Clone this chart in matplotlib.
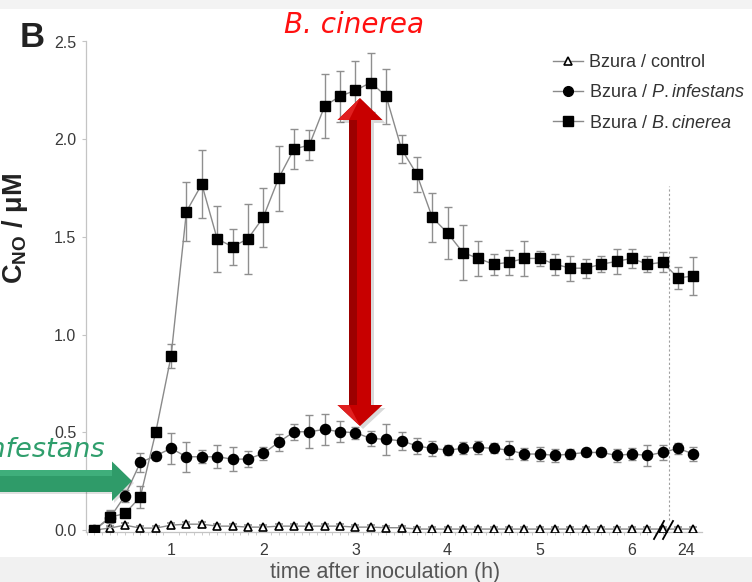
import numpy as np
import matplotlib
matplotlib.use('Agg')
import matplotlib.pyplot as plt
from matplotlib.lines import Line2D
from matplotlib.patches import Polygon, Rectangle

plt.rcParams['font.family'] = ['Liberation Sans', 'DejaVu Sans']
plt.rcParams['mathtext.fontset'] = 'custom'
plt.rcParams['mathtext.rm'] = 'Liberation Sans'
plt.rcParams['mathtext.it'] = 'Liberation Sans:italic'
plt.rcParams['mathtext.bf'] = 'Liberation Sans:bold'

# ---------------- data ----------------
# sampling every 10 min during first hours, then two readings at 24 h
time_min = list(range(10, 390, 10)) + [1440, 1450]

control = [0.0, 0.01, 0.025, 0.01, 0.01, 0.025, 0.03, 0.03, 0.02, 0.02,
           0.015, 0.015, 0.02, 0.02, 0.02, 0.02, 0.02, 0.015, 0.015, 0.012,
           0.012, 0.005, 0.005, 0.005, 0.005, 0.005, 0.005, 0.005, 0.005, 0.005,
           0.005, 0.005, 0.005, 0.005, 0.005, 0.005, 0.005, 0.005, 0.005, 0.005]
control_err = [0.01] * 40

infestans = [0.0, 0.06, 0.176, 0.346, 0.38, 0.418, 0.375, 0.375, 0.375, 0.363,
             0.363, 0.392, 0.449, 0.503, 0.503, 0.515, 0.503, 0.498, 0.469, 0.464,
             0.457, 0.43, 0.418, 0.409, 0.418, 0.423, 0.418, 0.409, 0.389, 0.389,
             0.382, 0.389, 0.397, 0.397, 0.382, 0.389, 0.382, 0.397, 0.418, 0.389]
infestans_err = [0.01, 0.045, 0.03, 0.05, 0.02, 0.08, 0.077, 0.034, 0.06, 0.063,
                 0.04, 0.035, 0.045, 0.04, 0.085, 0.078, 0.055, 0.03, 0.037, 0.08,
                 0.047, 0.04, 0.038, 0.025, 0.03, 0.032, 0.025, 0.046, 0.03, 0.038,
                 0.035, 0.028, 0.02, 0.02, 0.035, 0.033, 0.055, 0.038, 0.028, 0.037]

cinerea = [0.0, 0.065, 0.085, 0.17, 0.50, 0.89, 1.63, 1.77, 1.49, 1.45,
           1.49, 1.60, 1.80, 1.95, 1.97, 2.17, 2.22, 2.25, 2.29, 2.22,
           1.95, 1.82, 1.60, 1.52, 1.42, 1.39, 1.36, 1.37, 1.39, 1.39,
           1.36, 1.34, 1.34, 1.36, 1.375, 1.39, 1.36, 1.37, 1.29, 1.30]
cinerea_err = [0.01, 0.03, 0.02, 0.055, 0.02, 0.063, 0.15, 0.175, 0.17, 0.093,
               0.18, 0.15, 0.165, 0.10, 0.075, 0.165, 0.13, 0.15, 0.15, 0.14,
               0.07, 0.09, 0.125, 0.135, 0.14, 0.09, 0.055, 0.064, 0.09, 0.04,
               0.055, 0.064, 0.048, 0.04, 0.064, 0.05, 0.04, 0.052, 0.055, 0.095]

xtick_labels = ['1', '2', '3', '4', '5', '6', '24']
xtick_hours = [1, 2, 3, 4, 5, 6, 24]
ytick_values = [0.0, 0.5, 1.0, 1.5, 2.0, 2.5]


def axis_pos(minutes):
    """broken time axis: hours up to 6.5 h, then 24 h readings placed after the break"""
    m = np.asarray(minutes, dtype=float)
    return np.where(m < 1000, m / 60.0, 6.5 + (m - 1440) / 60.0)


def tick_pos(h):
    return h if h < 10 else 6.59


x = axis_pos(time_min)

# ---------------- figure ----------------
W, H = 752, 582
fig = plt.figure(figsize=(W / 100, H / 100), dpi=100)

# background bands (screenshot look)
bg = fig.add_axes([0, 0, 1, 1], zorder=-1)
bg.set_xlim(0, W); bg.set_ylim(H, 0); bg.axis('off')
bg.add_patch(Rectangle((0, 0), W, 9, color='#f3f3f3', lw=0))
bg.add_patch(Rectangle((0, 557), W, 25, color='#f1f1f1', lw=0))

ax_l, ax_r, ax_t, ax_b = 86, 702, 41.5, 532
ax = fig.add_axes([ax_l / W, 1 - ax_b / H, (ax_r - ax_l) / W, (ax_b - ax_t) / H], zorder=0)
ax.patch.set_alpha(0)

line_c = '#8a8a8a'
common = dict(color=line_c, lw=1.0, ecolor='#8f8f8f', elinewidth=1.0, capsize=3, capthick=1.0)

ax.errorbar(x, control, yerr=control_err, marker='^', ms=6, mfc='white', mec='black',
            mew=1.2, zorder=3, **common)
ax.errorbar(x, infestans, yerr=infestans_err, marker='o', ms=7.3, mfc='black', mec='black',
            zorder=4, **common)
ax.errorbar(x, cinerea, yerr=cinerea_err, marker='s', ms=6.8, mfc='black', mec='black',
            zorder=5, **common)

ax.set_xlim(0.077, 6.76)
ax.set_ylim(-0.01, 2.5)
ax.set_yticks(ytick_values)
ax.set_yticklabels([f'{v:.1f}' for v in ytick_values])
ax.set_xticks([tick_pos(h) for h in xtick_hours])
ax.set_xticklabels(xtick_labels)
ax.set_xticks(np.arange(1, 77) / 12.0, minor=True)

for s in ['top', 'right']:
    ax.spines[s].set_visible(False)
for s in ['left', 'bottom']:
    ax.spines[s].set_color('#c4c4c4')
    ax.spines[s].set_linewidth(0.9)
ax.tick_params(axis='y', length=3, width=0.8, color='#c4c4c4', pad=4,
               labelsize=11.5, labelcolor='#3a3a3a')
ax.tick_params(axis='x', which='major', length=0, pad=8, labelsize=11.5, labelcolor='#3a3a3a')
ax.tick_params(axis='x', which='minor', length=2.5, width=0.6, color='#c4c4c4')

# dashed separator before 24 h
ax.axvline(6.40, ymin=0.024, ymax=0.705, color='#a0a0a0', lw=0.8, ls=(0, (2, 2)))

ax.set_xlabel('time after inoculation (h)', fontsize=15.5, color='#555555')
ax.xaxis.set_label_coords((385 - ax_l) / (ax_r - ax_l), (ax_b - 578) / (ax_b - ax_t), transform=ax.transAxes)
ax.xaxis.label.set_va('baseline')

ax.set_ylabel(r'$\mathbf{C}_{\mathbf{NO}}$ / μM', fontsize=19.5, fontweight='bold', color='#222222')
ax.yaxis.set_label_coords((30 - ax_l) / (ax_r - ax_l), (ax_b - 228) / (ax_b - ax_t))

# legend
handles = [
    Line2D([], [], color=line_c, lw=1, marker='^', ms=6, mfc='white', mec='black', mew=1.2),
    Line2D([], [], color=line_c, lw=1, marker='o', ms=7, mfc='black', mec='black'),
    Line2D([], [], color=line_c, lw=1, marker='s', ms=6.5, mfc='black', mec='black'),
]
labels = ['Bzura / control', r'Bzura / $\mathit{P}$$\mathit{.infestans}$', r'Bzura / $\mathit{B}$$\mathit{.cinerea}$']
leg = fig.legend(handles, labels, loc='upper left', bbox_to_anchor=(553 / W, 1 - 54 / H),
                 frameon=False, borderpad=0, borderaxespad=0, handlelength=1.65,
                 handletextpad=0.35, labelspacing=0.74, fontsize=13)
for t in leg.get_texts():
    t.set_color('#333333')

# ---------------- overlay annotations ----------------
ov = fig.add_axes([0, 0, 1, 1], zorder=3)
ov.set_xlim(0, W); ov.set_ylim(H, 0); ov.axis('off')

# panel letter
ov.text(20, 47, 'B', fontsize=25, fontweight='bold', color='#222222', va='baseline', ha='left')

# break marks on the time axis
ov.plot([654, 664], [539, 521], color='black', lw=1.3)
ov.plot([663, 673], [539, 521], color='black', lw=1.3)

# titles in annotation colours
ov.text(354, 33, 'B. cinerea', fontsize=20, style='italic', color='#ff1010',
        family='DejaVu Sans', ha='center', va='baseline')
ov.text(105, 457, 'P. infestans', fontsize=19.5, style='italic', color='#2f9e6c',
        family='DejaVu Sans', ha='right', va='baseline')

# green arrow
g_pts = [(-5, 470), (112, 470), (112, 461.5), (132, 481), (112, 501), (112, 492), (-5, 492)]
ov.add_patch(Polygon([(px + 2, py + 2) for px, py in g_pts], closed=True, color='#000000', alpha=0.12, lw=0))
ov.add_patch(Polygon(g_pts, closed=True, color='#2f9b69', lw=0))
ov.add_patch(Polygon([(-5, 470), (112, 470), (112, 476), (-5, 476)], closed=True, color='#3fae7b', lw=0))

# red double arrow
r_pts = [(360, 98), (382.5, 120), (371, 120), (371, 405), (382.5, 405), (360, 426),
         (337.5, 405), (349, 405), (349, 120), (337.5, 120)]
ov.add_patch(Polygon([(px + 3, py + 3) for px, py in r_pts], closed=True, color='#000000', alpha=0.15, lw=0))
ov.add_patch(Polygon(r_pts, closed=True, color='#c80000', lw=0))
ov.add_patch(Polygon([(349, 120), (357, 120), (357, 405), (349, 405)], closed=True, color='#9c0000', lw=0))
ov.add_patch(Polygon([(360, 98), (337.5, 120), (349, 120)], closed=True, color='#e02020', lw=0))
ov.add_patch(Polygon([(360, 426), (337.5, 405), (349, 405)], closed=True, color='#e02020', lw=0))

fig.savefig('out.png', dpi=100)
